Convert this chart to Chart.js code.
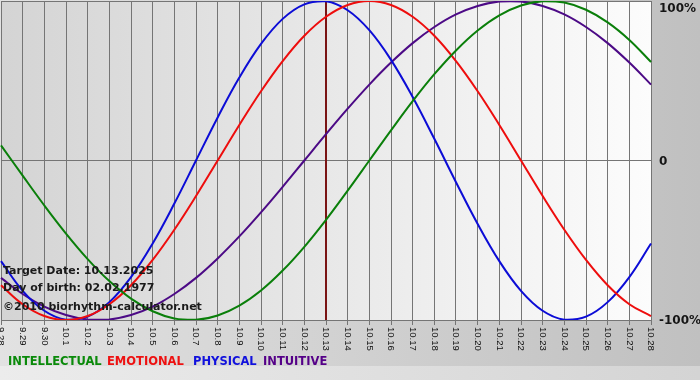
<!DOCTYPE html>
<html>
<head>
<meta charset="utf-8">
<script src="https://cdn.jsdelivr.net/npm/chart.js@4/dist/chart.umd.min.js"></script>
<style>
html,body{margin:0;padding:0;background:#d8d8d8;}
#wrap{position:relative;width:700px;height:380px;}
</style>
</head>
<body>
<div id="wrap"><canvas id="c" width="700" height="380"></canvas></div>
<script>
const categories = ['9.28','9.29','9.30','10.1','10.2','10.3','10.4','10.5','10.6','10.7','10.8','10.9','10.10','10.11','10.12','10.13','10.14','10.15','10.16','10.17','10.18','10.19','10.20','10.21','10.22','10.23','10.24','10.25','10.26','10.27','10.28'];
const intellectual = [9.5,-9.5,-28.2,-45.8,-61.8,-75.6,-86.6,-94.5,-99.0,-99.9,-97.2,-91.0,-81.5,-69.0,-54.1,-37.2,-18.9,0,18.9,37.2,54.1,69.0,81.5,91.0,97.2,99.9,99.0,94.5,86.6,75.6,61.8];
const emotional = [-78.2,-90.1,-97.5,-100,-97.5,-90.1,-78.2,-62.3,-43.4,-22.3,0,22.3,43.4,62.3,78.2,90.1,97.5,100,97.5,90.1,78.2,62.3,43.4,22.3,0,-22.3,-43.4,-62.3,-78.2,-90.1,-97.5];
const physical = [-63.1,-81.7,-94.2,-99.8,-97.9,-88.8,-73.1,-52.0,-27.0,0,27.0,52.0,73.1,88.8,97.9,99.8,94.2,81.7,63.1,39.8,13.6,-13.6,-39.8,-63.1,-81.7,-94.2,-99.8,-97.9,-88.8,-73.1,-52.0];
const intuitive = [-73.6,-83.7,-91.6,-96.9,-99.7,-99.7,-96.9,-91.6,-83.7,-73.6,-61.4,-47.6,-32.5,-16.5,0,16.5,32.5,47.6,61.4,73.6,83.7,91.6,96.9,99.7,99.7,96.9,91.6,83.7,73.6,61.4,47.6];
const yTickValues = [100, 0, -100];
const yTickLabels = ['100%', '0', '-100%'];
const targetLabel = '10.13';
const infoLines = ['Target Date: 10.13.2025', 'Day of birth: 02.02.1977', '\u00A92010 biorhythm-calculator.net'];
const legendNames = ['INTELLECTUAL', 'EMOTIONAL', 'PHYSICAL', 'INTUITIVE'];
const legendColors = ['#0a8a0a', '#ee1111', '#1111dd', '#550088'];

const bgPlugin = {
  id: 'bg',
  beforeDraw(chart) {
    const ctx = chart.ctx, a = chart.chartArea;
    ctx.save();
    let g = ctx.createLinearGradient(0, 0, 700, 0);
    g.addColorStop(0, '#e2e2e2');
    g.addColorStop(1, '#c0c0c0');
    ctx.fillStyle = g;
    ctx.fillRect(0, 0, 700, 366);
    g = ctx.createLinearGradient(0, 0, 700, 0);
    g.addColorStop(0, '#ececec');
    g.addColorStop(1, '#d4d4d4');
    ctx.fillStyle = g;
    ctx.fillRect(0, 366, 700, 14);
    g = ctx.createLinearGradient(a.left, 0, a.right, 0);
    g.addColorStop(0, '#d4d4d4');
    g.addColorStop(1, '#fcfcfc');
    ctx.fillStyle = g;
    ctx.fillRect(a.left, a.top, a.right - a.left, a.bottom - a.top);
    ctx.restore();
  },
  beforeDatasetsDraw(chart) {
    const ctx = chart.ctx, a = chart.chartArea;
    const x = chart.scales.x.getPixelForValue(categories.indexOf(targetLabel));
    ctx.save();
    ctx.strokeStyle = '#7a1414';
    ctx.lineWidth = 2;
    ctx.beginPath();
    ctx.moveTo(x, a.top);
    ctx.lineTo(x, a.bottom);
    ctx.stroke();
    ctx.restore();
  },
  afterDraw(chart) {
    const ctx = chart.ctx, a = chart.chartArea;
    const xs = chart.scales.x, ys = chart.scales.y;
    ctx.save();
    ctx.fillStyle = '#111';
    ctx.font = '9.5px "Liberation Sans", Arial, sans-serif';
    ctx.textAlign = 'left';
    ctx.textBaseline = 'middle';
    categories.forEach((lab, i) => {
      const x = xs.getPixelForValue(i);
      ctx.save();
      ctx.translate(x, a.bottom + 7);
      ctx.rotate(Math.PI / 2);
      ctx.fillText(lab, 0, 0);
      ctx.restore();
    });
    ctx.font = 'bold 12px "DejaVu Sans", Verdana, sans-serif';
    ctx.fillStyle = '#151515';
    yTickValues.forEach((v, i) => {
      let y = ys.getPixelForValue(v);
      y = Math.max(y, a.top + 7) + 1;
      ctx.fillText(yTickLabels[i], a.right + 8, y);
    });
    ctx.font = 'bold 11px "DejaVu Sans", Verdana, sans-serif';
    ctx.fillStyle = '#1a1a1a';
    const infoY = [271, 288, 307];
    infoLines.forEach((t, i) => ctx.fillText(t, 3, infoY[i]));
    ctx.font = 'bold 11.5px "DejaVu Sans", Verdana, sans-serif';
    const legendX = [8, 107, 193, 263];
    legendNames.forEach((n, i) => {
      ctx.fillStyle = legendColors[i];
      ctx.fillText(n, legendX[i], 362);
    });
    ctx.restore();
  }
};

new Chart(document.getElementById('c'), {
  type: 'line',
  data: {
    labels: categories,
    datasets: [
      { label: 'INTELLECTUAL', data: intellectual, borderColor: '#0a7f0a' },
      { label: 'EMOTIONAL', data: emotional, borderColor: '#ee0d0d' },
      { label: 'PHYSICAL', data: physical, borderColor: '#0c0cd6' },
      { label: 'INTUITIVE', data: intuitive, borderColor: '#4c0a86' }
    ].map(d => Object.assign(d, { borderWidth: 2, pointRadius: 0, tension: 0.4, fill: false }))
  },
  options: {
    responsive: false,
    animation: false,
    layout: { padding: { top: 1, left: 1, right: 0, bottom: 0 } },
    plugins: { legend: { display: false }, tooltip: { enabled: false } },
    scales: {
      x: {
        offset: false,
        ticks: { display: false, autoSkip: false },
        grid: { color: '#757575', lineWidth: 1, drawTicks: true, tickLength: 5 },
        border: { display: true, color: '#757575' },
        afterFit(s) { s.height = 60; }
      },
      y: {
        position: 'right',
        min: -100, max: 100,
        ticks: { display: false, stepSize: 100 },
        grid: { color: '#757575', lineWidth: 1, drawTicks: false },
        border: { display: true, color: '#757575' },
        afterFit(s) { s.width = 49; }
      }
    }
  },
  plugins: [bgPlugin]
});
</script>
</body>
</html>
